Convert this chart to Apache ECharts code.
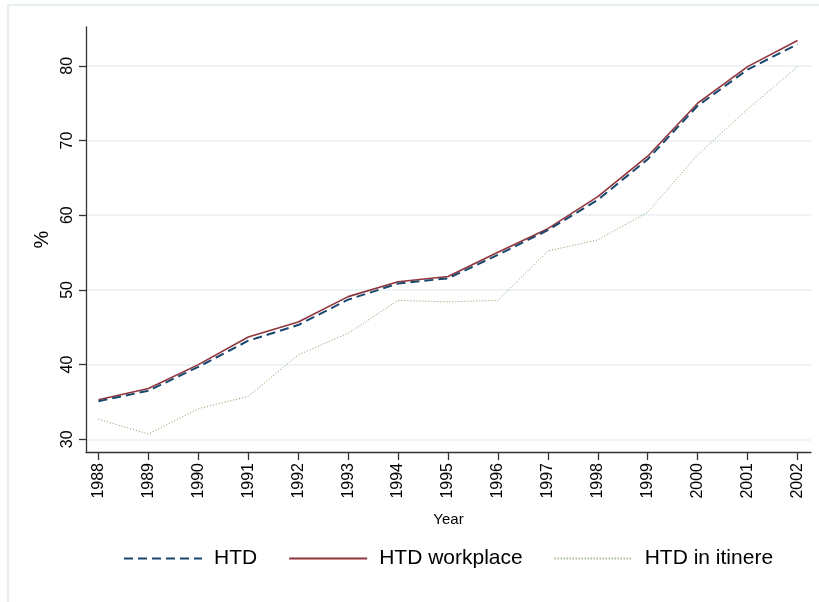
<!DOCTYPE html>
<html>
<head>
<meta charset="utf-8">
<script src="https://cdn.jsdelivr.net/npm/echarts@6/dist/echarts.min.js"></script>
<style>
html,body{margin:0;padding:0;background:#fff;}
#chart{width:819px;height:602px;}
</style>
</head>
<body>
<div id="chart"></div>
<script>
var years = [1988,1989,1990,1991,1992,1993,1994,1995,1996,1997,1998,1999,2000,2001,2002];
var htd = [35.1,36.5,39.7,43.2,45.3,48.7,50.85,51.55,54.7,58.0,62.05,67.5,74.65,79.5,82.9];
var htdWorkplace = [35.3,36.8,40.0,43.7,45.7,49.1,51.1,51.8,55.05,58.2,62.5,67.9,75.0,79.9,83.4];
var htdItinere = [32.7,30.7,34.1,35.75,41.3,44.2,48.6,48.4,48.6,55.2,56.7,60.4,68.1,74.2,79.9];
var yTicks = [30,40,50,60,70,80];

function pairs(v){ return years.map(function(y,i){ return [y, v[i]]; }); }

var chart = echarts.init(document.getElementById('chart'), null, {renderer:'canvas'});
var font = '"Liberation Sans", Arial, sans-serif';
chart.setOption({
  backgroundColor:'#ffffff',
  animation:false,
  graphic:[{type:'rect', shape:{x:8,y:5,width:830,height:620}, style:{fill:'none', stroke:'#e6eef1', lineWidth:2}, silent:true}],
  grid:{left:86,right:8,top:27,bottom:150,containLabel:false},
  xAxis:{
    type:'value', min:1987.75, max:2002.27,
    name:'Year', nameLocation:'middle', nameGap:60,
    nameTextStyle:{fontFamily:font,fontSize:15,color:'#000'},
    axisLine:{show:true,onZero:false,lineStyle:{color:'#333',width:1.3}},
    axisTick:{show:true,length:8,customValues:years,lineStyle:{color:'#333',width:1.3}},
    axisLabel:{customValues:years,rotate:90,fontFamily:font,fontSize:16,color:'#000',margin:11,
      formatter:function(v){ return String(v); }},
    splitLine:{show:false}
  },
  yAxis:{
    type:'value', min:28.3, max:85.2,
    name:'%', nameLocation:'middle', nameGap:32, nameRotate:90,
    nameTextStyle:{fontFamily:font,fontSize:20,color:'#000'},
    axisLine:{show:true,lineStyle:{color:'#333',width:1.3}},
    axisTick:{show:true,length:7,customValues:yTicks,lineStyle:{color:'#333',width:1.3}},
    axisLabel:{customValues:yTicks,rotate:90,fontFamily:font,fontSize:16,color:'#000',margin:10},
    splitLine:{show:true,lineStyle:{color:'#e9f0f3',width:1.5}}
  },
  legend:{
    left:118, top:543, itemWidth:78, itemHeight:16, itemGap:31,
    itemStyle:{opacity:0,borderWidth:0},
    textStyle:{fontFamily:font,fontSize:21,color:'#000',padding:[0,0,0,7]},
    data:['HTD','HTD workplace','HTD in itinere']
  },
  series:[
    {name:'HTD',type:'line',data:pairs(htd),symbol:'none',z:3,
      lineStyle:{color:'#1a476f',width:2,type:[9,5]},itemStyle:{color:'#1a476f'}},
    {name:'HTD workplace',type:'line',data:pairs(htdWorkplace),symbol:'none',z:2,
      lineStyle:{color:'#90353b',width:1.6,type:'solid'},itemStyle:{color:'#90353b'}},
    {name:'HTD in itinere',type:'line',data:pairs(htdItinere),symbol:'none',z:1,
      lineStyle:{color:'#7c9a5c',width:1,type:[1,2]},itemStyle:{color:'#7c9a5c'}}
  ]
});
</script>
</body>
</html>
